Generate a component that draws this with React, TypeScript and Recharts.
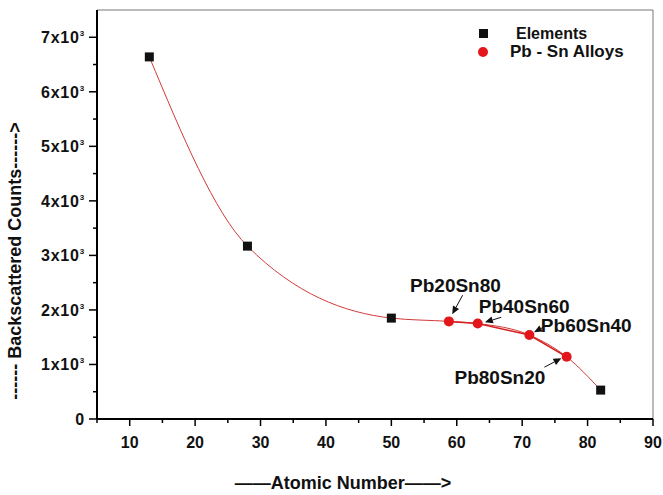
import React from "react";
import {
  ComposedChart,
  Line,
  Scatter,
  XAxis,
  YAxis,
  ReferenceLine,
  ReferenceDot,
} from "recharts";

const FONT = '"Liberation Sans", Arial, Helvetica, sans-serif';

// pure elements (Al, Ni, Sn, Pb)
const elementX = [13, 28, 50, 82];
const elementCounts = [6640, 3170, 1850, 530];

// Pb-Sn alloys
const alloyX = [58.8, 63.2, 71.1, 76.8];
const alloyCounts = [1790, 1750, 1540, 1140];
const alloyNames = ["Pb20Sn80", "Pb40Sn60", "Pb60Sn40", "Pb80Sn20"];

// annotation text centre + arrow (data units)
const labelX = [59.8, 70.3, 79.8, 66.6];
const labelY = [2450, 2080, 1720, 770];
const arrowFromX = [60.9, 66.8, 73.2, 73.4];
const arrowFromY = [2270, 1865, 1680, 950];
const arrowToX = [59.3, 64.3, 71.8, 76.0];
const arrowToY = [1920, 1773, 1590, 1115];

const xTicks = [5, 10, 15, 20, 25, 30, 35, 40, 45, 50, 55, 60, 65, 70, 75, 80, 85, 90];
const yTicks = [0, 500, 1000, 1500, 2000, 2500, 3000, 3500, 4000, 4500, 5000, 5500, 6000, 6500, 7000];

const elements = elementX.map((x, i) => ({ x, y: elementCounts[i] }));
const alloys = alloyX.map((x, i) => ({ x, y: alloyCounts[i] }));
const fitCurve = [...elements, ...alloys].sort((a, b) => a.x - b.x);

function YTick({ x, y, payload }: any) {
  const v = payload.value;
  const major = v % 1000 === 0;
  return (
    <g>
      <line x1={x - (major ? 8 : 4)} x2={x} y1={y} y2={y} stroke="#000" strokeWidth={1.5} />
      {major && (
        <text
          x={x - 12}
          y={y + 6}
          textAnchor="end"
          fontFamily={FONT}
          fontWeight="bold"
          fontSize={16}
          letterSpacing={0.8}
          fill="#111"
        >
          {v === 0 ? "0" : `${v / 1000}x10`}
          {v !== 0 && (
            <tspan dy={-7} fontSize={8}>
              3
            </tspan>
          )}
        </text>
      )}
    </g>
  );
}

function XTick({ x, y, payload }: any) {
  const v = payload.value;
  const major = v % 10 === 0;
  return (
    <g>
      <line x1={x} x2={x} y1={y} y2={y + (major ? 7 : 4)} stroke="#000" strokeWidth={1.5} />
      {major && (
        <text
          x={x}
          y={y + 29}
          textAnchor="middle"
          fontFamily={FONT}
          fontWeight="bold"
          fontSize={16}
          fill="#111"
        >
          {v}
        </text>
      )}
    </g>
  );
}

function Arrow(p: any) {
  const { x1, y1, x2, y2 } = p;
  const a = Math.atan2(y2 - y1, x2 - x1);
  const L = 8;
  const W = 3.5;
  const bx = x2 - L * Math.cos(a);
  const by = y2 - L * Math.sin(a);
  const pts = `${x2},${y2} ${bx - W * Math.sin(a)},${by + W * Math.cos(a)} ${bx + W * Math.sin(a)},${by - W * Math.cos(a)}`;
  return (
    <g>
      <line x1={x1} y1={y1} x2={bx} y2={by} stroke="#111" strokeWidth={1} />
      <polygon points={pts} fill="#111" />
    </g>
  );
}

const squareShape = (p: any) => (
  <rect x={p.cx - 4.5} y={p.cy - 4.5} width={9} height={9} fill="#111" />
);
const dotShape = (p: any) => <circle cx={p.cx} cy={p.cy} r={5} fill="#e3161b" />;

export default function App() {
  return (
    <div style={{ position: "absolute", left: 0, top: 0, width: 663, height: 495, background: "#fff" }}>
      <ComposedChart
        width={663}
        height={495}
        margin={{ top: 10, right: 10, left: 0, bottom: 0 }}
      >
        <XAxis
          dataKey="x"
          type="number"
          domain={[5, 90]}
          ticks={xTicks}
          interval={0}
          height={76}
          tickSize={0}
          tickMargin={0}
          tickLine={false}
          tick={<XTick />}
          axisLine={{ stroke: "#000", strokeWidth: 2 }}
        />
        <YAxis
          dataKey="y"
          type="number"
          domain={[0, 7500]}
          ticks={yTicks}
          interval={0}
          width={97}
          tickSize={0}
          tickMargin={0}
          tickLine={false}
          tick={<YTick />}
          axisLine={{ stroke: "#000", strokeWidth: 2 }}
        />
        <ReferenceLine y={7500} stroke="#777" strokeWidth={1} />
        <ReferenceLine x={90} stroke="#777" strokeWidth={1} />
        <Line
          data={fitCurve}
          dataKey="y"
          type="monotone"
          stroke="#d23a3a"
          strokeWidth={1}
          dot={false}
          isAnimationActive={false}
        />
        <Scatter
          data={alloys}
          dataKey="y"
          line={{ stroke: "#d41f1f", strokeWidth: 1.5 }}
          shape={dotShape}
          isAnimationActive={false}
        />
        <Scatter data={elements} dataKey="y" shape={squareShape} isAnimationActive={false} />
        {alloyNames.map((name, i) => (
          <ReferenceLine
            key={"a" + name}
            segment={[
              { x: arrowFromX[i], y: arrowFromY[i] },
              { x: arrowToX[i], y: arrowToY[i] },
            ]}
            shape={Arrow}
          />
        ))}
        {alloyNames.map((name, i) => (
          <ReferenceDot
            key={"l" + name}
            x={labelX[i]}
            y={labelY[i]}
            r={0}
            shape={(p: any) => (
              <text
                x={p.cx}
                y={p.cy + 7}
                textAnchor="middle"
                fontFamily={FONT}
                fontWeight="bold"
                fontSize={19}
                fill="#111"
              >
                {name}
              </text>
            )}
          />
        ))}
      </ComposedChart>

      {/* legend */}
      <div style={{ position: "absolute", left: 479, top: 29, width: 9, height: 9, background: "#111" }} />
      <div
        style={{ position: "absolute", left: 516, top: 24, fontFamily: FONT, fontWeight: "bold", fontSize: 16, lineHeight: "20px", color: "#111" }}
      >
        Elements
      </div>
      <div style={{ position: "absolute", left: 478, top: 47, width: 10, height: 10, borderRadius: 5, background: "#e3161b" }} />
      <div
        style={{ position: "absolute", left: 510, top: 42, fontFamily: FONT, fontWeight: "bold", fontSize: 17, lineHeight: "20px", color: "#111", whiteSpace: "nowrap" }}
      >
        Pb - Sn Alloys
      </div>

      {/* axis titles */}
      <div
        style={{ position: "absolute", left: 343, top: 473, transform: "translateX(-50%)", fontFamily: FONT, fontWeight: "bold", fontSize: 18, lineHeight: "20px", color: "#111", whiteSpace: "nowrap" }}
      >
        ——Atomic Number——&gt;
      </div>
      <div
        style={{ position: "absolute", left: 15, top: 261, transform: "translate(-50%, -50%) rotate(-90deg)", fontFamily: FONT, fontWeight: "bold", fontSize: 18, lineHeight: "20px", color: "#111", whiteSpace: "nowrap" }}
      >
        ------ Backscattered Counts------&gt;
      </div>
    </div>
  );
}
